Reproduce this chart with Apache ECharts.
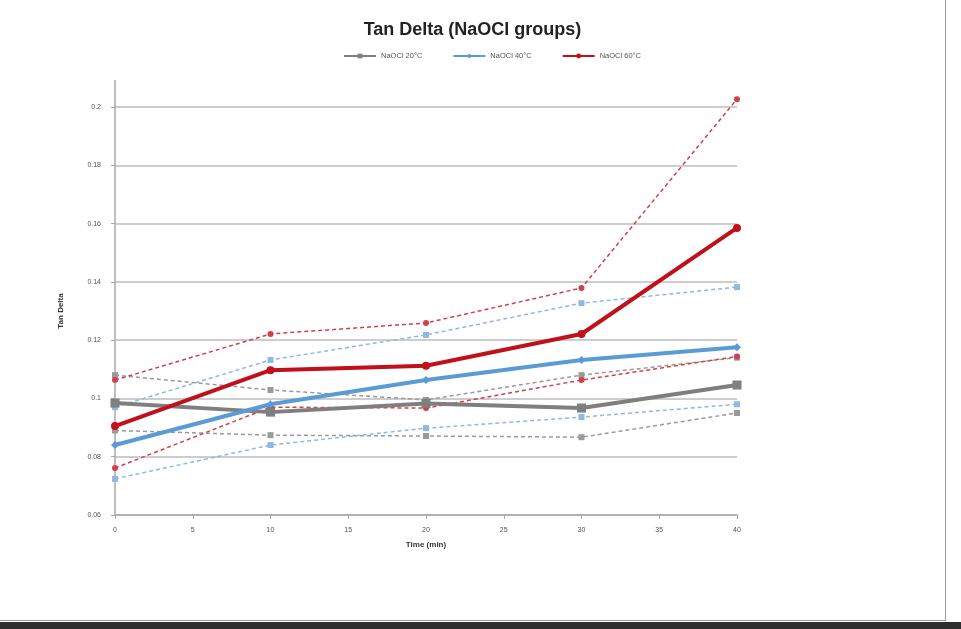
<!DOCTYPE html>
<html>
<head>
<meta charset="utf-8">
<script src="https://cdn.jsdelivr.net/npm/echarts@6/dist/echarts.min.js"></script>
<style>
  html, body { margin: 0; padding: 0; background: #ffffff; width: 961px; height: 629px; overflow: hidden; }
  #frame { position: absolute; left: 0; top: 0; width: 945px; height: 620px; border-right: 1px solid #9a9a9a; border-bottom: 1px solid #9a9a9a; background: #fff; }
  #chart { position: absolute; left: 0; top: 0; width: 945px; height: 620px; }
  #strip { position: absolute; left: 0; top: 622px; width: 961px; height: 7px; background: #2e2e2e; }
</style>
</head>
<body>
<div id="frame"><div id="chart"></div></div>
<div id="strip"></div>
<script>
// Immersion time points (min)
const times = [0, 10, 20, 30, 40];
const yTicks = [0.06, 0.08, 0.1, 0.12, 0.14, 0.16, 0.18, 0.2];

// NaOCl 20°C: mean and spread
const g20Mean  = [0.0984, 0.0953, 0.0983, 0.0967, 0.1046];
const g20Upper = [0.1080, 0.1029, 0.0995, 0.1080, 0.1140];
const g20Lower = [0.0890, 0.0874, 0.0871, 0.0867, 0.0950];

// NaOCl 40°C: mean and spread
const g40Mean  = [0.0840, 0.0980, 0.1063, 0.1132, 0.1176];
const g40Upper = [0.0970, 0.1132, 0.1218, 0.1327, 0.1382];
const g40Lower = [0.0724, 0.0840, 0.0898, 0.0936, 0.0980];

// NaOCl 60°C: mean and spread
const g60Mean  = [0.0905, 0.1097, 0.1112, 0.1221, 0.1585];
const g60Upper = [0.1063, 0.1221, 0.1259, 0.1379, 0.2027];
const g60Lower = [0.0761, 0.0970, 0.0967, 0.1063, 0.1144];

const legendNames = ['NaOCl 20°C', 'NaOCl 40°C', 'NaOCl 60°C'];

const pairs = vals => vals.map((v, i) => [times[i], v]);

function meanSeries(name, vals, color, symbol, size) {
  return {
    name: name, type: 'line', data: pairs(vals), z: 5, clip: false,
    lineStyle: { color: color, width: 4 },
    itemStyle: { color: color },
    symbol: symbol, symbolSize: size, showSymbol: true
  };
}
function spreadSeries(name, vals, color, symbol) {
  return {
    name: name, type: 'line', data: pairs(vals), z: 3, clip: false,
    lineStyle: { color: color, width: 1.5, type: [4, 3] },
    itemStyle: { color: color },
    symbol: symbol, symbolSize: 6, showSymbol: true
  };
}

const gray = '#7f7f7f', grayD = '#9a9a9a';
const blue = '#5b9bd5', blueD = '#8fb8e2';
const red = '#c0101a', redD = '#d2404a';

const chart = echarts.init(document.getElementById('chart'), null, { renderer: 'canvas' });
chart.setOption({
  animation: false,
  backgroundColor: '#ffffff',
  title: {
    text: 'Tan Delta (NaOCl groups)', left: 'center', top: 16,
    textStyle: { fontFamily: 'Liberation Sans, Arial, sans-serif', fontSize: 18, fontWeight: 'bold', color: '#222' }
  },
  legend: {
    data: legendNames, top: 47, left: 338, itemGap: 30, itemWidth: 32, itemHeight: 6,
    textStyle: { fontSize: 7.5, color: '#555', fontFamily: 'Liberation Sans, Arial, sans-serif' }
  },
  grid: { left: 115, right: 208, top: 107, bottom: 105, containLabel: false },
  xAxis: {
    type: 'value', min: 0, max: 40, interval: 5,
    name: 'Time (min)', nameLocation: 'middle', nameGap: 26,
    nameTextStyle: { fontSize: 8, fontWeight: 'bold', color: '#333' },
    axisLine: { show: true, lineStyle: { color: '#a8a8a8', width: 1.5 } },
    axisTick: { show: true, length: 4, lineStyle: { color: '#a8a8a8' } },
    axisLabel: { fontSize: 7, color: '#555', margin: 12 },
    splitLine: { show: false }
  },
  yAxis: {
    type: 'value', min: 0.06, max: 0.2, interval: 0.02,
    name: 'Tan Delta', nameLocation: 'middle', nameGap: 50, nameRotate: 90,
    nameTextStyle: { fontSize: 8, fontWeight: 'bold', color: '#333' },
    axisLine: { show: true, lineStyle: { color: '#a8a8a8', width: 1.5 } },
    axisTick: { show: true, length: 4, inside: false, lineStyle: { color: '#a8a8a8' } },
    axisLabel: {
      fontSize: 7, color: '#555', margin: 14,
      formatter: v => String(parseFloat(v.toFixed(2)))
    },
    splitLine: { show: true, lineStyle: { color: '#cdcdcd', width: 2 } }
  },
  graphic: [{
    type: 'line', shape: { x1: 115, y1: 80, x2: 115, y2: 107 },
    style: { stroke: '#a8a8a8', lineWidth: 1.5 }, z: 1
  }],
  series: [
    spreadSeries('20 upper', g20Upper, grayD, 'rect'),
    spreadSeries('20 lower', g20Lower, grayD, 'rect'),
    spreadSeries('40 upper', g40Upper, blueD, 'rect'),
    spreadSeries('40 lower', g40Lower, blueD, 'rect'),
    spreadSeries('60 upper', g60Upper, redD, 'circle'),
    spreadSeries('60 lower', g60Lower, redD, 'circle'),
    meanSeries(legendNames[0], g20Mean, gray, 'rect', 9),
    meanSeries(legendNames[1], g40Mean, blue, 'diamond', 8),
    meanSeries(legendNames[2], g60Mean, red, 'circle', 8)
  ]
});
</script>
</body>
</html>
